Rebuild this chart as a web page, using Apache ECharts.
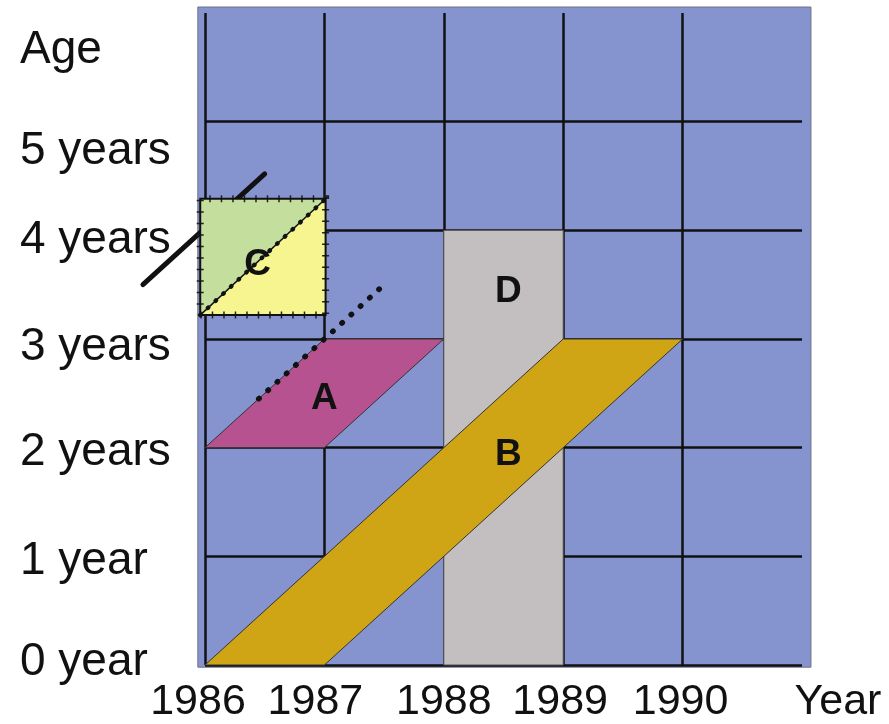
<!DOCTYPE html>
<html>
<head>
<meta charset="utf-8">
<script src="https://cdn.jsdelivr.net/npm/echarts@6/dist/echarts.min.js"></script>
<style>
  html, body { margin: 0; padding: 0; background: #fff; }
  #chart { width: 889px; height: 724px; }
</style>
</head>
<body>
<div id="chart"></div>
<script>
// axes
const yearTicks = [1986, 1987, 1988, 1989, 1990, 1991];
const yearLabels = ['1986', '1987', '1988', '1989', '1990', 'Year'];
const ageTicks = [0, 1, 2, 3, 4, 5, 6];
const ageLabels = ['0 year', '1 year', '2 years', '3 years', '4 years', '5 years', 'Age'];

// lexis areas (year, age)
const panel = [[1985.94, -0.02], [1991.075, -0.02], [1991.075, 6.055], [1985.94, 6.055]];
const areaD = [[1988, 0], [1989, 0], [1989, 4], [1988, 4]];
const areaB = [[1986, 0], [1987, 0], [1990, 3], [1989, 3]];
const areaA = [[1986, 2], [1987, 2], [1988, 3], [1987, 3]];
const areaCGreen = [[1985.96, 3.22], [1985.96, 4.29], [1987.01, 4.29]];
const areaCYellow = [[1985.96, 3.22], [1987.01, 3.22], [1987.01, 4.29]];
const boxC = [[1985.96, 3.22], [1987.01, 3.22], [1987.01, 4.29], [1985.96, 4.29], [1985.96, 3.22]];

// life lines
const lineThick = [[1985.48, 3.5], [1986.5, 4.52]];
const lineDotted = [[1986.45, 2.45], [1987.5, 3.5]];
const diagC = [[1985.96, 3.22], [1987.01, 4.29]];

// area letters
const letters = ['A', 'B', 'C', 'D'];
const letterPos = [[1987.0, 2.45], [1988.54, 1.93], [1986.44, 3.68], [1988.54, 3.43]];

// small label nudges (px)
const yearShift = [-7, -9, 0, -3, -2, 36];
const ageShift = [-3, 5, 5, 8, 10, 30, 37];

function polygon(name, pts, fill, stroke, z) {
    return {
        type: 'custom', name: name, z: z, silent: true,
        data: [pts[0]],
        renderItem: function (params, api) {
            return {
                type: 'polygon',
                shape: { points: pts.map(function (p) { return api.coord(p); }) },
                style: { fill: fill, stroke: stroke, lineWidth: 1 }
            };
        }
    };
}

function polyline(name, pts, style, z) {
    return {
        type: 'custom', name: name, z: z, silent: true,
        data: [pts[0]],
        renderItem: function (params, api) {
            return {
                type: 'polyline',
                shape: { points: pts.map(function (p) { return api.coord(p); }) },
                style: Object.assign({ fill: null }, style)
            };
        }
    };
}

let yearRich = {};
yearTicks.forEach(function (t, i) {
    let d = yearShift[i];
    yearRich['y' + i] = { padding: d >= 0 ? [0, 0, 0, 2 * d] : [0, -2 * d, 0, 0] };
});
let ageRich = {};
ageTicks.forEach(function (t, i) {
    let d = ageShift[i];
    ageRich['a' + i] = { padding: d >= 0 ? [2 * d, 0, 0, 0] : [0, 0, -2 * d, 0] };
});

let myChart = echarts.init(document.getElementById('chart'));
myChart.setOption({
    backgroundColor: '#ffffff',
    animation: false,
    textStyle: { fontFamily: 'Liberation Sans' },
    grid: { left: 205, right: 87, top: 13, bottom: 59, outerBoundsMode: 'none' },
    xAxis: {
        type: 'value', min: 1986, max: 1991, interval: 1,
        axisLine: { show: false }, axisTick: { show: false },
        splitLine: { show: true, showMaxLine: false, lineStyle: { color: '#111', width: 2.5 } },
        axisLabel: {
            margin: 16, color: '#111', fontSize: 43, showMaxLabel: true, showMinLabel: true,
            formatter: function (v) {
                let i = yearTicks.indexOf(v);
                return i < 0 ? '' : '{y' + i + '|' + yearLabels[i] + '}';
            },
            rich: yearRich
        }
    },
    yAxis: {
        type: 'value', min: 0, max: 6, interval: 1,
        axisLine: { show: false }, axisTick: { show: false },
        splitLine: { show: true, showMaxLine: false, lineStyle: { color: '#111', width: 2.5 } },
        axisLabel: {
            margin: 185, align: 'left', color: '#111', fontSize: 46, showMaxLabel: true, showMinLabel: true,
            formatter: function (v) {
                let i = ageTicks.indexOf(v);
                return i < 0 ? '' : '{a' + i + '|' + ageLabels[i] + '}';
            },
            rich: ageRich
        }
    },
    series: [
        polygon('panel', panel, '#8594cf', '#6f7180', -1),
        polygon('D', areaD, '#c3bfc0', '#555', 2),
        polygon('B', areaB, '#d0a515', '#333', 3),
        polygon('A', areaA, '#b6528f', '#333', 3),
        polyline('lifeline C', lineThick, { stroke: '#111', lineWidth: 5, lineCap: 'round' }, 4),
        polygon('C upper', areaCGreen, '#c3de9d', null, 5),
        polygon('C lower', areaCYellow, '#f7f590', null, 5),
        polyline('C ticks', boxC, { stroke: '#222', lineWidth: 7, lineDash: [1.5, 10] }, 6),
        polyline('C box', boxC, { stroke: '#111', lineWidth: 2 }, 6),
        polyline('C diagonal', diagC, { stroke: '#111', lineWidth: 1.5 }, 6),
        polyline('C diagonal dots', diagC, { stroke: '#111', lineWidth: 4.5, lineDash: [0.5, 10], lineCap: 'round' }, 6),
        polyline('lifeline A', lineDotted, { stroke: '#111', lineWidth: 5.5, lineDash: [0.5, 12], lineCap: 'round' }, 6),
        {
            type: 'custom', name: 'letters', z: 10, silent: true,
            data: letterPos,
            renderItem: function (params, api) {
                let p = api.coord([api.value(0), api.value(1)]);
                return {
                    type: 'text',
                    style: {
                        text: letters[params.dataIndex], x: p[0], y: p[1],
                        font: 'bold 37px Liberation Sans', fill: '#111',
                        align: 'center', verticalAlign: 'middle'
                    }
                };
            }
        }
    ]
});
</script>
</body>
</html>
